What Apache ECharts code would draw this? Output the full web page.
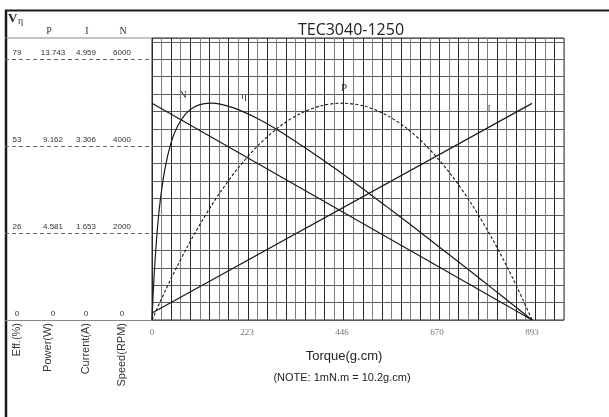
<!DOCTYPE html>
<html><head><meta charset="utf-8">
<script src="https://cdn.jsdelivr.net/npm/echarts@6/dist/echarts.min.js"></script>
<style>html,body{margin:0;padding:0;background:#fff}#c{width:609px;height:417px}</style>
</head><body><div id="c"></div>
<script>
// ---- tick labels ----
const torqueTickLabels = ['0', '223', '446', '670', '893'];
const effScaleLabels = ['0', '26', '53', '79'];
const powerScaleLabels = ['0', '4.581', '9.162', '13.743'];
const currentScaleLabels = ['0', '1.653', '3.306', '4.959'];
const speedScaleLabels = ['0', '2000', '4000', '6000'];
const columnHeaders = ['P', 'I', 'N'];
const columnNames = ['Eff.(%)', 'Power(W)', 'Current(A)', 'Speed(RPM)'];

// ---- data (torque g.cm) ----
const speedTorque = [0, 893];
const speedValues = [4989, 0];
const currentTorque = [0, 893];
const currentValues = [0.135, 4.12];
const curveTorque = [0, 2.5, 5, 10, 15, 20, 30, 45, 60, 80, 100, 120, 140, 160, 200, 250, 300, 350, 400, 446.5, 500, 550, 600, 650, 700, 750, 800, 850, 893];
const effValues = [0, 7.2, 13.4, 23.3, 30.9, 36.8, 45.6, 53.8, 58.7, 62.6, 64.6, 65.5, 65.7, 65.4, 63.9, 60.9, 57.2, 53.0, 48.6, 44.4, 39.3, 34.5, 29.6, 24.6, 19.6, 14.6, 9.5, 4.4, 0];
const powerValues = [0, 0.128, 0.255, 0.506, 0.755, 1.001, 1.485, 2.188, 2.866, 3.729, 4.547, 5.319, 6.045, 6.725, 7.947, 9.217, 10.20, 10.90, 11.31, 11.43, 11.27, 10.81, 10.08, 9.05, 7.74, 6.14, 4.26, 2.09, 0];

const zip = (xs, ys) => xs.map((x, i) => [x, ys[i]]);

const chart = echarts.init(document.getElementById('c'), null, {renderer: 'canvas'});

const topFrac = 6490 / 6000; // grid top sits a little above the 6000 line
const hiddenY = (max) => ({
  type: 'value', gridIndex: 0, min: 0, max: max, show: false
});
const leftY = (labels, margin) => ({
  type: 'value', gridIndex: 1, position: 'left', min: 0, max: 6000, interval: 2000,
  axisLine: {show: false}, axisTick: {show: false},
  splitLine: {show: false},
  axisLabel: {
    inside: true, margin: margin, align: 'center', verticalAlign: 'bottom',
    padding: [0, 0, 2, 0],
    fontFamily: 'Liberation Sans', fontSize: 8, color: '#333',
    formatter: v => labels[Math.round(v / 2000)] ?? ''
  }
});

const txt = (x, y, text, style, extra) => Object.assign({
  type: 'text', x: x, y: y, silent: true,
  style: Object.assign({text: text, fill: '#222'}, style)
}, extra || {});

const serifLabel = {fontFamily: 'Liberation Serif', fontSize: 11, align: 'center', verticalAlign: 'middle', fill: '#333'};
const rotName = {fontFamily: 'Liberation Sans', fontSize: 11, align: 'right', verticalAlign: 'middle', fill: '#333'};

const option = {
  animation: false,
  backgroundColor: '#fff',
  title: {
    text: 'TEC3040-1250', left: 346, top: 17, textAlign: 'center',
    textStyle: {fontFamily: 'Open Sans', fontSize: 16, fontWeight: 'normal', color: '#222'}
  },
  grid: [
    {left: 152, right: 45, top: 38, bottom: 97, show: true, borderColor: '#2a2a2a', borderWidth: 1},
    {left: 5, right: 457, top: 59, bottom: 97}
  ],
  xAxis: [
    {
      type: 'value', gridIndex: 0, min: 0, max: 968, interval: 22.325,
      axisLine: {show: false}, axisTick: {show: false}, splitLine: {show: false},
      axisLabel: {
        margin: 8, fontFamily: 'Liberation Serif', fontSize: 9, color: '#777',
        showMaxLabel: false,
        formatter: v => {
          const k = Math.round(v / 22.325);
          return (k % 10 === 0) ? (torqueTickLabels[k / 10] ?? '') : '';
        }
      }
    },
    {
      type: 'value', gridIndex: 0, position: 'top', min: 0, max: 43, interval: 1,
      axisLine: {show: false}, axisTick: {show: false}, axisLabel: {show: false},
      splitLine: {show: true, lineStyle: {color: ['#2a2a2a', '#7c7c7c'], width: 1}}
    },
    {
      type: 'value', gridIndex: 1, min: 0, max: 1,
      axisLine: {show: true, lineStyle: {color: '#888', width: 1}},
      axisTick: {show: false}, axisLabel: {show: false}, splitLine: {show: false}
    }
  ],
  yAxis: [
    {
      type: 'value', gridIndex: 0, min: 0, max: 6000 * topFrac, interval: 400,
      axisLine: {show: false}, axisTick: {show: false}, axisLabel: {show: false},
      splitLine: {show: true, lineStyle: {color: '#5e5e5e', width: 1}}
    },
    hiddenY(79 * topFrac),
    hiddenY(13.743 * topFrac),
    hiddenY(4.959 * topFrac),
    Object.assign(leftY(effScaleLabels, 12), {
      splitLine: {show: true, lineStyle: {color: '#666', width: 1, type: [4, 3]}}
    }),
    leftY(powerScaleLabels, 48),
    leftY(currentScaleLabels, 81),
    leftY(speedScaleLabels, 117)
  ],
  series: [
    {name: 'N', type: 'line', xAxisIndex: 0, yAxisIndex: 0, data: zip(speedTorque, speedValues),
     symbol: 'none', lineStyle: {color: '#1a1a1a', width: 1.2}},
    {name: 'η', type: 'line', xAxisIndex: 0, yAxisIndex: 1, data: zip(curveTorque, effValues),
     symbol: 'none', smooth: 0.3, lineStyle: {color: '#1a1a1a', width: 1.2}},
    {name: 'P', type: 'line', xAxisIndex: 0, yAxisIndex: 2, data: zip(curveTorque, powerValues),
     symbol: 'none', smooth: 0.3, lineStyle: {color: '#1a1a1a', width: 1.1, type: [3, 2]}},
    {name: 'I', type: 'line', xAxisIndex: 0, yAxisIndex: 3, data: zip(currentTorque, currentValues),
     symbol: 'none', lineStyle: {color: '#1a1a1a', width: 1.2}}
  ],
  graphic: [
    {type: 'line', silent: true, shape: {x1: 5, y1: 10.5, x2: 609, y2: 10.5}, style: {stroke: '#1a1a1a', lineWidth: 2}},
    {type: 'line', silent: true, shape: {x1: 6, y1: 10, x2: 6, y2: 417}, style: {stroke: '#1a1a1a', lineWidth: 2.5}},
    {type: 'line', silent: true, shape: {x1: 5, y1: 38, x2: 152, y2: 38}, style: {stroke: '#888', lineWidth: 1}},
    txt(8, 19, 'V', {fontFamily: 'Liberation Serif', fontSize: 13, fontWeight: 'bold', verticalAlign: 'middle'}),
    txt(18, 21, 'η', {fontFamily: 'Liberation Serif', fontSize: 10, verticalAlign: 'middle', fill: '#333'}),
    txt(49, 31, columnHeaders[0], {fontFamily: 'Liberation Serif', fontSize: 10, align: 'center', verticalAlign: 'middle', fill: '#333'}),
    txt(87, 31, columnHeaders[1], {fontFamily: 'Liberation Serif', fontSize: 10, align: 'center', verticalAlign: 'middle', fill: '#333'}),
    txt(123, 31, columnHeaders[2], {fontFamily: 'Liberation Serif', fontSize: 10, align: 'center', verticalAlign: 'middle', fill: '#333'}),
    txt(17, 323, columnNames[0], rotName, {rotation: Math.PI / 2}),
    txt(48, 323, columnNames[1], rotName, {rotation: Math.PI / 2}),
    txt(86, 323, columnNames[2], rotName, {rotation: Math.PI / 2}),
    txt(122, 323, columnNames[3], rotName, {rotation: Math.PI / 2}),
    txt(344, 356, 'Torque(g.cm)', {fontFamily: 'Liberation Sans', fontSize: 13, align: 'center', verticalAlign: 'middle', fill: '#222'}),
    txt(342, 378, '(NOTE: 1mN.m = 10.2g.cm)', {fontFamily: 'Liberation Sans', fontSize: 11, align: 'center', verticalAlign: 'middle', fill: '#222'}),
    txt(183, 95, 'N', serifLabel),
    txt(244, 96, 'η', serifLabel),
    txt(344, 88, 'P', serifLabel),
    txt(489, 109, 'I', Object.assign({}, serifLabel, {fill: '#666'}))
  ]
};
chart.setOption(option);
</script>
</body></html>
